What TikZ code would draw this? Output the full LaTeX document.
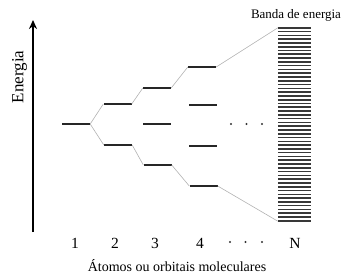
\documentclass[tikz,border=0pt]{standalone}
\usepackage{fontspec}
\setmainfont{Liberation Serif}
\usetikzlibrary{arrows.meta}
\begin{document}
\begin{tikzpicture}[x=1pt,y=-1pt,
  lvl/.style={rectangle,fill=black!85,inner sep=0pt,minimum width=28pt,minimum height=1.8pt},
  conn/.style={draw=black!30,line width=0.6pt},
  bandline/.style={draw=black!78,line width=1.6pt},
  dotm/.style={circle,fill=black!80,inner sep=0pt,minimum size=2.4pt},
  lab/.style={font=\fontsize{14}{16}\selectfont,anchor=base,inner sep=0pt},
  num/.style={font=\fontsize{15.5}{18}\selectfont,anchor=base,inner sep=0pt}
]
\useasboundingbox (0,0) rectangle (349,277);
% energy axis
\coordinate (ab) at (33,232);
\coordinate (at) at (33,20);
\draw[line width=1.5pt,-{Stealth[length=9pt,width=8pt]}] (ab) -- (at);
\node[rotate=90,font=\fontsize{17}{19}\selectfont,inner sep=0pt] (en) at (19.5,77) {Energia};
% levels
\node[lvl] (l1) at (76,124) {};
\node[lvl] (l2a) at (117.5,104) {};
\node[lvl] (l2b) at (118,145) {};
\node[lvl] (l3a) at (157,88) {};
\node[lvl] (l3b) at (157,124) {};
\node[lvl] (l3c) at (157.5,165) {};
\node[lvl] (l4a) at (202,67) {};
\node[lvl] (l4b) at (202.5,105) {};
\node[lvl] (l4c) at (203,146) {};
\node[lvl] (l4d) at (203.5,186) {};
% band
\node[rectangle,inner sep=0pt,minimum width=33pt,minimum height=193pt] (band) at (294.5,124.5) {};
\foreach \i in {0,...,51}{
  \draw[bandline] ([yshift={-\i*3.7843pt}]band.north west) -- ([yshift={-\i*3.7843pt}]band.north east);
}
% connectors
\draw[conn] (l1.east) -- (l2a.west);
\draw[conn] (l1.east) -- (l2b.west);
\draw[conn] (l2a.east) -- (l3a.west);
\draw[conn] (l2b.east) -- (l3c.west);
\draw[conn] (l3a.east) -- (l4a.west);
\draw[conn] (l3c.east) -- (l4d.west);
\draw[conn] (l4a.east) -- (band.north west);
\draw[conn] (l4d.east) -- (band.south west);
% dots
\node[dotm] (d1) at (231,124) {};
\node[dotm] (d2) at (246.5,124) {};
\node[dotm] (d3) at (262,124) {};
\node[dotm] (e1) at (230,242) {};
\node[dotm] (e2) at (245.5,242) {};
\node[dotm] (e3) at (262,242) {};
% labels
\node[num] (n1) at (75,248) {1};
\node[num] (n2) at (115,248) {2};
\node[num] (n3) at (155,248) {3};
\node[num] (n4) at (200,248) {4};
\node[num] (nN) at (295,248) {N};
\node[lab] (cap) at (177,271) {Átomos ou orbitais moleculares};
\node[lab,font=\fontsize{13}{15}\selectfont] (bt) at (296,18) {Banda de energia};
\end{tikzpicture}
\end{document}
